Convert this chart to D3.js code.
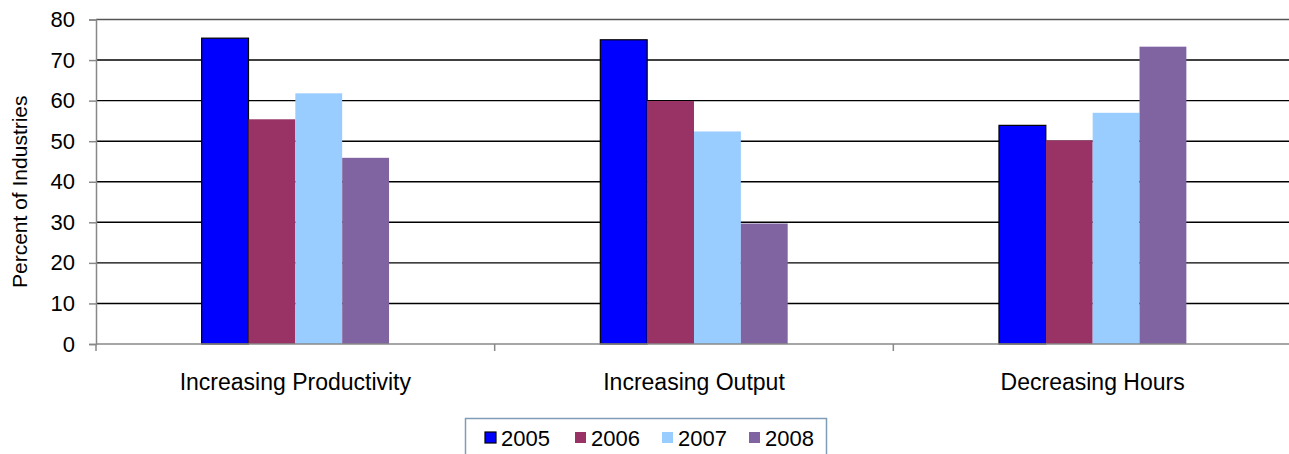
<!DOCTYPE html>
<html>
<head>
<meta charset="utf-8">
<script src="https://cdn.jsdelivr.net/npm/d3@7"></script>
<style>
  body { margin: 0; background: #fff; }
  svg { font-family: "Liberation Sans", Arial, sans-serif; }
</style>
</head>
<body>
<div id="chart"></div>
<script>
// Data
const categories = ["Increasing Productivity", "Increasing Output", "Decreasing Hours"];
const years = ["2005", "2006", "2007", "2008"];
const values2005 = [75.4, 75.0, 53.9];
const values2006 = [55.4, 59.9, 50.2];
const values2007 = [61.8, 52.4, 57.0];
const values2008 = [45.9, 29.7, 73.3];
const yTicks = [0, 10, 20, 30, 40, 50, 60, 70, 80];

const colors = {
    "2005": "#0000ff",
    "2006": "#993366",
    "2007": "#99ccff",
    "2008": "#8064a2"
};

const series = [values2005, values2006, values2007, values2008];

const W = 1289, H = 454;
const margin = { top: 19.5, right: 0, bottom: 110, left: 96 };
const width = W - margin.left - margin.right;
const height = H - margin.top - margin.bottom;
const fontSize = "22px";

const svg = d3.select("#chart").append("svg")
    .attr("width", W)
    .attr("height", H);

const g = svg.append("g")
    .attr("transform", `translate(${margin.left},${margin.top})`);

const x0 = d3.scaleBand()
    .domain(categories)
    .range([0, width + 3])
    .paddingInner(0.53)
    .paddingOuter(0.265);

const x1 = d3.scaleBand()
    .domain(years)
    .range([0, x0.bandwidth()]);

const y = d3.scaleLinear()
    .domain([0, 80])
    .range([height, 0]);

// Gridlines
g.append("g")
    .selectAll("line")
    .data(yTicks.filter(d => d > 0))
    .join("line")
    .attr("x1", 0)
    .attr("x2", width)
    .attr("y1", d => y(d))
    .attr("y2", d => y(d))
    .attr("stroke", d => d === 80 ? "#555" : "#000")
    .attr("stroke-width", 1.4);

// Bars
const rows = categories.map((c, i) => ({ cat: c, vals: years.map((yr, j) => ({ yr, v: series[j][i] })) }));

g.append("g")
    .selectAll("g")
    .data(rows)
    .join("g")
    .attr("transform", d => `translate(${x0(d.cat)},0)`)
    .selectAll("rect")
    .data(d => d.vals)
    .join("rect")
    .attr("x", d => x1(d.yr))
    .attr("y", d => y(d.v))
    .attr("width", x1.bandwidth())
    .attr("height", d => height - y(d.v))
    .attr("fill", d => colors[d.yr])
    .attr("stroke", d => d.yr === "2005" ? "#000" : "none")
    .attr("stroke-width", 1.2);

// Y axis
const yAxis = g.append("g")
    .call(d3.axisLeft(y).tickValues(yTicks).tickSize(7).tickPadding(14));
yAxis.select(".domain").attr("stroke", "#888").attr("stroke-width", 1.5);
yAxis.selectAll(".tick line").attr("stroke", "#888").attr("stroke-width", 1.5);
yAxis.selectAll("text").style("font-size", fontSize).attr("fill", "#000");

// X axis
const catScale = d3.scaleLinear().domain([0, 3]).range([0, width + 3]);
g.append("line")
    .attr("x1", 0).attr("x2", width)
    .attr("y1", height).attr("y2", height)
    .attr("stroke", "#888").attr("stroke-width", 1.5);

g.append("g")
    .selectAll("line")
    .data([0, 1, 2])
    .join("line")
    .attr("x1", d => catScale(d))
    .attr("x2", d => catScale(d))
    .attr("y1", height)
    .attr("y2", height + 7)
    .attr("stroke", "#888")
    .attr("stroke-width", 1.5);

g.append("g")
    .selectAll("text")
    .data(categories)
    .join("text")
    .attr("x", d => x0(d) + x0.bandwidth() / 2)
    .attr("y", height + 46)
    .attr("text-anchor", "middle")
    .style("font-size", "23px")
    .text(d => d);

// Y title
svg.append("text")
    .attr("transform", "rotate(-90)")
    .attr("x", -(margin.top + height / 2 + 10))
    .attr("y", 27)
    .attr("text-anchor", "middle")
    .style("font-size", "21px")
    .text("Percent of Industries");

// Legend
const legend = svg.append("g");
legend.append("rect")
    .attr("x", 465.5).attr("y", 418.5)
    .attr("width", 361).attr("height", 40)
    .attr("fill", "#fff")
    .attr("stroke", "#7f9db9")
    .attr("stroke-width", 1.5);

const legendX = [485, 575, 662, 749];
years.forEach((yr, i) => {
    legend.append("rect")
        .attr("x", legendX[i]).attr("y", 432)
        .attr("width", 11).attr("height", 11)
        .attr("fill", colors[yr])
        .attr("stroke", yr === "2005" ? "#000" : "none")
        .attr("stroke-width", 1.2);
    legend.append("text")
        .attr("x", legendX[i] + 16)
        .attr("y", 446)
        .style("font-size", fontSize)
        .text(yr);
});
</script>
</body>
</html>
